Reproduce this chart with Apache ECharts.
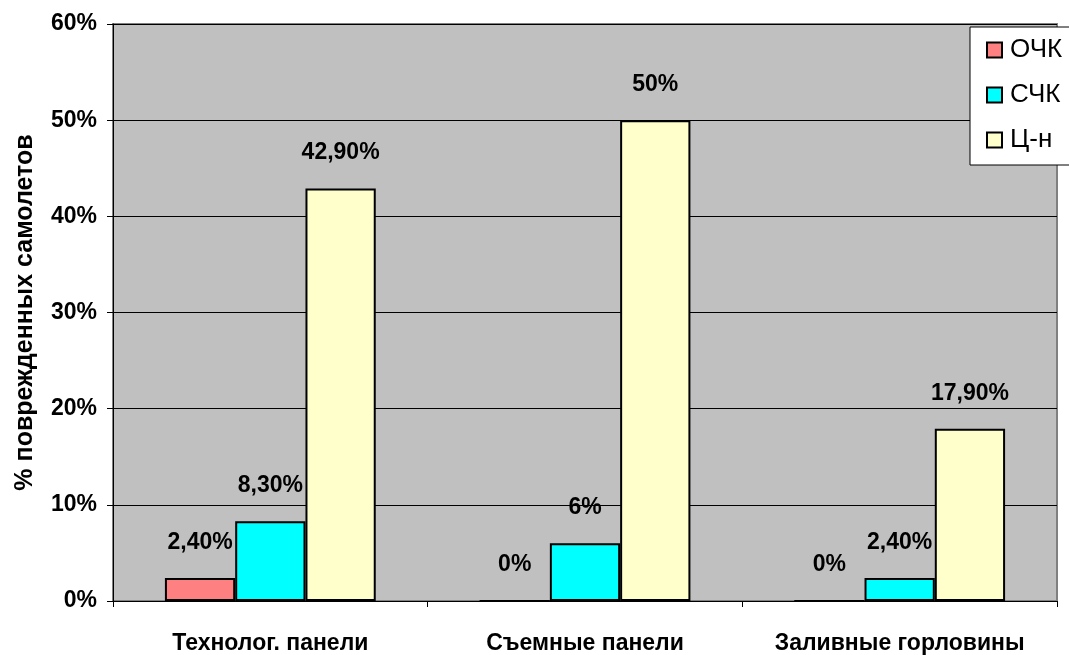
<!DOCTYPE html>
<html>
<head>
<meta charset="utf-8">
<script src="https://cdn.jsdelivr.net/npm/echarts@6/dist/echarts.min.js"></script>
<style>
  html, body { margin: 0; padding: 0; background: #ffffff; }
  #chart { width: 1069px; height: 655px; }
</style>
</head>
<body>
<div id="chart"></div>
<script>
// Доля повреждённых самолётов по зонам конструкции
const categories = ['Технолог. панели', 'Съемные панели', 'Заливные горловины'];
const seriesNames = ['ОЧК', 'СЧК', 'Ц-н'];
const valuesOCK = [2.4, 0, 0];
const valuesSCK = [8.3, 6, 2.4];
const valuesCN = [42.9, 50, 17.9];
const yTicks = { min: 0, max: 60, interval: 10 };

const colors = ['#FF8080', '#00FFFF', '#FFFFCC'];

// 2.4 -> "2,40%", 6 -> "6%"
function pct(v) {
  if (Number.isInteger(v)) return v + '%';
  return v.toFixed(2).replace('.', ',') + '%';
}

const font = 'Liberation Sans, Arial, sans-serif';

function makeSeries(name, data, color) {
  return {
    name: name,
    type: 'bar',
    data: data,
    barGap: '0%',
    barCategoryGap: '33%',
    itemStyle: { color: color, borderColor: '#000000', borderWidth: 2 },
    label: {
      show: true,
      position: 'top',
      distance: 24,
      formatter: p => pct(p.value),
      fontFamily: font,
      fontWeight: 'bold',
      fontSize: 23,
      color: '#000000'
    }
  };
}

const chart = echarts.init(document.getElementById('chart'), null, { renderer: 'canvas' });
chart.setOption({
  animation: false,
  backgroundColor: '#ffffff',
  grid: {
    left: 113, right: 12, top: 24, bottom: 54,
    outerBoundsMode: 'none',
    containLabel: false,
    show: true,
    backgroundColor: '#C0C0C0',
    borderColor: '#808080',
    borderWidth: 2
  },
  legend: {
    orient: 'vertical',
    left: 970,
    top: 27,
    data: seriesNames,
    icon: 'rect',
    itemWidth: 15,
    itemHeight: 15,
    itemGap: 19,
    padding: [10, 20, 12, 16],
    backgroundColor: '#ffffff',
    borderColor: '#000000',
    borderWidth: 1,
    textStyle: { fontFamily: font, fontSize: 26, color: '#000000', padding: [0, 0, 0, 3] }
  },
  xAxis: {
    type: 'category',
    data: categories,
    axisLine: { show: true, lineStyle: { color: '#000000', width: 1 } },
    axisTick: { show: true, interval: 0, length: 6, lineStyle: { color: '#000000' } },
    axisLabel: {
      interval: 0,
      hideOverlap: false,
      margin: 31,
      fontFamily: font,
      fontWeight: 'bold',
      fontSize: 23,
      color: '#000000'
    },
    splitLine: { show: false }
  },
  yAxis: {
    type: 'value',
    min: yTicks.min,
    max: yTicks.max,
    interval: yTicks.interval,
    name: '% поврежденных самолетов',
    nameLocation: 'middle',
    nameGap: 75,
    nameTextStyle: { fontFamily: font, fontWeight: 'bold', fontSize: 25, color: '#000000' },
    axisLine: { show: true, lineStyle: { color: '#000000', width: 1 } },
    axisTick: { show: true, inside: false, length: 6, lineStyle: { color: '#000000' } },
    axisLabel: {
      margin: 16,
      formatter: '{value}%',
      fontFamily: font,
      fontWeight: 'bold',
      fontSize: 23,
      color: '#000000'
    },
    splitLine: { show: true, lineStyle: { color: '#000000', width: 1 } }
  },
  series: [
    makeSeries(seriesNames[0], valuesOCK, colors[0]),
    makeSeries(seriesNames[1], valuesSCK, colors[1]),
    makeSeries(seriesNames[2], valuesCN, colors[2])
  ]
});
</script>
</body>
</html>
